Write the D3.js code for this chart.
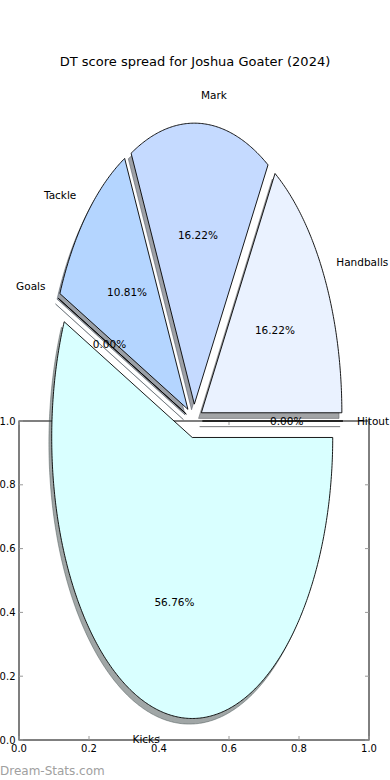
<!DOCTYPE html>
<html>
<head>
<meta charset="utf-8">
<script src="https://cdn.jsdelivr.net/npm/d3@7"></script>
<style>
  html, body { margin: 0; padding: 0; background: #fff; }
  svg { display: block; }
  text { font-family: "DejaVu Sans", sans-serif; fill: #000; }
</style>
</head>
<body>
<script>
// data
const labels = ["Hitout", "Handballs", "Mark", "Tackle", "Goals", "Kicks"]
const values = [0, 6, 6, 4, 0, 21]
const colors = ["#f0f8ff", "#eaf2ff", "#c5daff", "#b4d5ff", "#a8ccf0", "#d9ffff"]
const explode = [0.06, 0.06, 0.06, 0.06, 0.06, 0.06]
const xTicks = [0, 0.2, 0.4, 0.6, 0.8, 1.0]
const yTicks = [0, 0.2, 0.4, 0.6, 0.8, 1.0]
const title = "DT score spread for Joshua Goater (2024)"

const W = 390, H = 780

const svg = d3.select("body").append("svg")
  .attr("width", W)
  .attr("height", H)

// empty 0..1 axes behind the pie
const ax = {left: 19, right: 369, top: 421, bottom: 740}
const x = d3.scaleLinear().domain([0, 1]).range([ax.left, ax.right])
const y = d3.scaleLinear().domain([0, 1]).range([ax.bottom, ax.top])

const frame = svg.append("g")

frame.append("rect")
  .attr("x", ax.left)
  .attr("y", ax.top)
  .attr("width", ax.right - ax.left)
  .attr("height", ax.bottom - ax.top)
  .attr("fill", "none")
  .attr("stroke", "#000")
  .attr("stroke-width", 1)

const tickLen = 4
// inward ticks on all four sides
frame.selectAll(".xt").data(xTicks).enter().append("path")
  .attr("d", d => `M${x(d)},${ax.bottom}v${-tickLen}M${x(d)},${ax.top}v${tickLen}`)
  .attr("stroke", "#999").attr("stroke-width", 1)
frame.selectAll(".yt").data(yTicks).enter().append("path")
  .attr("d", d => `M${ax.left},${y(d)}h${tickLen}M${ax.right},${y(d)}h${-tickLen}`)
  .attr("stroke", "#999").attr("stroke-width", 1)

frame.selectAll(".xl").data(xTicks).enter().append("text")
  .attr("x", d => x(d))
  .attr("y", ax.bottom + 8)
  .attr("dy", "0.35em")
  .attr("text-anchor", "middle")
  .attr("font-size", 10)
  .text(d => d.toFixed(1))
frame.selectAll(".yl").data(yTicks).enter().append("text")
  .attr("x", ax.left - 3.5)
  .attr("y", d => y(d))
  .attr("dy", "0.35em")
  .attr("text-anchor", "end")
  .attr("font-size", 10)
  .text(d => d.toFixed(1))

// pie space: unit circle, stretched 2:1 vertically
const cx = 194, cy = 421, rx = 140.5, ry = 281
const px = d3.scaleLinear().domain([-1, 1]).range([cx - rx, cx + rx])
const py = d3.scaleLinear().domain([-1, 1]).range([cy + ry, cy - ry])

// angles counter-clockwise from east, as matplotlib does
const pie = d3.pie().sort(null).startAngle(0).endAngle(2 * Math.PI)
const arcs = pie(values).map((a, i) => {
  const mid = (a.startAngle + a.endAngle) / 2
  return {
    i,
    t1: a.startAngle,
    t2: a.endAngle,
    mid,
    ox: explode[i] * Math.cos(mid),
    oy: explode[i] * Math.sin(mid)
  }
})

const line = d3.line().x(p => px(p[0])).y(p => py(p[1]))

const wedgePts = a => {
  const pts = [[a.ox, a.oy]]
  const n = Math.max(1, Math.ceil((a.t2 - a.t1) / 0.01))
  for (let k = 0; k <= n; k++) {
    const t = a.t1 + (a.t2 - a.t1) * k / n
    pts.push([a.ox + Math.cos(t), a.oy + Math.sin(t)])
  }
  pts.push([a.ox, a.oy])
  return pts
}

const shade = c => {
  const r = d3.rgb(c)
  return d3.rgb(r.r * 0.3, r.g * 0.3, r.b * 0.3)
}

const sdx = px(-0.02) - px(0), sdy = py(-0.02) - py(0)

const pieG = svg.append("g")

pieG.selectAll(".shadow").data(arcs).enter().append("path")
  .attr("class", "shadow")
  .attr("d", a => line(wedgePts(a)) + "Z")
  .attr("transform", `translate(${sdx},${sdy})`)
  .attr("fill", a => shade(colors[a.i]))
  .attr("fill-opacity", 0.5)
  .attr("stroke", a => shade(colors[a.i]))
  .attr("stroke-opacity", 0.5)
  .attr("stroke-width", 0.9)

pieG.selectAll(".wedge").data(arcs).enter().append("path")
  .attr("class", "wedge")
  .attr("d", a => line(wedgePts(a)) + "Z")
  .attr("fill", a => colors[a.i])
  .attr("stroke", "#000")
  .attr("stroke-width", 0.9)
  .attr("stroke-linejoin", "miter")

// labels at 1.1 r, percentages at 0.6 r
const total = d3.sum(values)
pieG.selectAll(".lab").data(arcs).enter().append("text")
  .attr("x", a => px(a.ox + 1.1 * Math.cos(a.mid)))
  .attr("y", a => py(a.oy + 1.1 * Math.sin(a.mid)))
  .attr("dy", "0.35em")
  .attr("text-anchor", a => Math.cos(a.mid) > 0 ? "start" : "end")
  .attr("font-size", 10.5)
  .text(a => labels[a.i])

pieG.selectAll(".pct").data(arcs).enter().append("text")
  .attr("x", a => px(a.ox + 0.6 * Math.cos(a.mid)))
  .attr("y", a => py(a.oy + 0.6 * Math.sin(a.mid)))
  .attr("dy", "0.35em")
  .attr("text-anchor", "middle")
  .attr("font-size", 10.5)
  .text(a => (100 * values[a.i] / total).toFixed(2) + "%")

svg.append("text")
  .attr("x", W / 2)
  .attr("y", 61)
  .attr("dy", "0.35em")
  .attr("text-anchor", "middle")
  .attr("font-size", 13)
  .text(title)

svg.append("text")
  .attr("x", 0)
  .attr("y", 775)
  .attr("font-size", 12)
  .style("fill", "#a0a0a0")
  .text("Dream-Stats.com")
</script>
</body>
</html>
